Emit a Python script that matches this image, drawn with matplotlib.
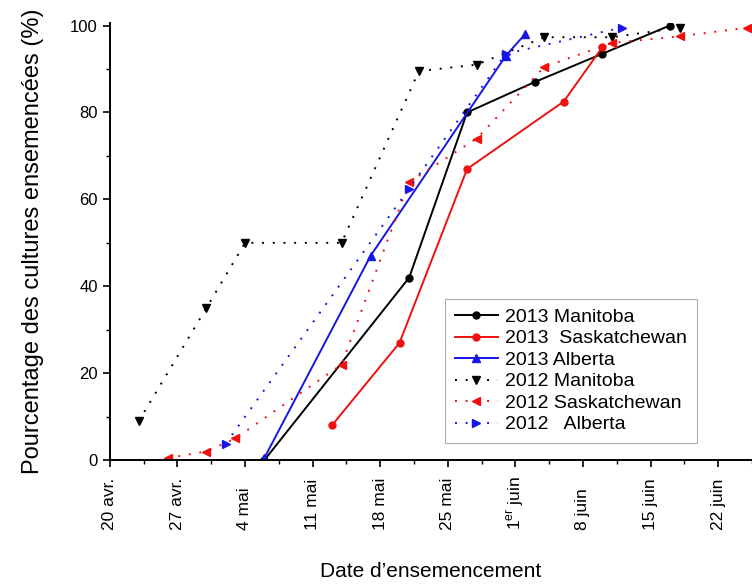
import numpy as np
import pandas as pd
import matplotlib
matplotlib.use("Agg")
import matplotlib.pyplot as plt
import matplotlib.transforms as mtransforms
from matplotlib.ticker import MultipleLocator

plt.rcParams.update({
    "font.family": ["Liberation Sans", "DejaVu Sans"],
    "mathtext.fontset": "custom",
    "mathtext.rm": "Liberation Sans",
    "font.size": 10,
})

# seeding dates (month-day) and % of crop seeded
man13_dates = ["05-06", "05-21", "05-27", "06-03", "06-10", "06-17"]
man13_vals = [0, 42, 80, 87, 93.5, 100]
sas13_dates = ["05-13", "05-20", "05-27", "06-06", "06-10"]
sas13_vals = [8, 27, 67, 82.5, 95]
alb13_dates = ["05-06", "05-17", "05-31", "06-02"]
alb13_vals = [0.5, 47, 93, 98]
man12_dates = ["04-23", "04-30", "05-04", "05-14", "05-22", "05-28", "06-04", "06-11", "06-18"]
man12_vals = [9, 35, 50, 50, 89.5, 91, 97.3, 97.3, 99.5]
sas12_dates = ["04-26", "04-30", "05-03", "05-14", "05-21", "05-28", "06-04", "06-11", "06-18", "06-25"]
sas12_vals = [0.5, 2, 5, 22, 64, 74, 90.5, 96, 97.5, 99.5]
alb12_dates = ["05-02", "05-21", "05-31", "06-12"]
alb12_vals = [3.8, 62.5, 93.5, 99.5]

tick_dates = ["04-20", "04-27", "05-04", "05-11", "05-18", "05-25",
              "06-01", "06-08", "06-15", "06-22"]
tick_labels = ["20 avr.", "27 avr.", "4 mai", "11 mai", "18 mai", "25 mai",
               "1$^{\\rm er}$ juin", "8 juin", "15 juin", "22 juin"]


def to_dt(md):
    # put both seasons on one calendar axis
    return pd.to_datetime(["2013-" + d for d in md])


series = [
    (man13_dates, man13_vals, "2013 Manitoba", "black", "-", "o", 5),
    (sas13_dates, sas13_vals, "2013  Saskatchewan", "#f01010", "-", "o", 5),
    (alb13_dates, alb13_vals, "2013 Alberta", "#1515e6", "-", "^", 5.5),
    (man12_dates, man12_vals, "2012 Manitoba", "black", (0, (1, 4.5)), "v", 6),
    (sas12_dates, sas12_vals, "2012 Saskatchewan", "#f01010", (0, (1, 4.5)), "<", 6),
    (alb12_dates, alb12_vals, "2012   Alberta", "#1515e6", (0, (1, 4.5)), ">", 6),
]

fig = plt.figure(figsize=(7.52, 5.87), dpi=100)
ax = fig.add_axes([0.146, 0.216, 0.854, 0.745])

for d, v, lab, c, ls, mk, ms in series:
    ax.plot(to_dt(d), v, linestyle=ls, color=c, lw=1.4, marker=mk, ms=ms,
            label=lab)

ax.set_xlim(pd.Timestamp("2013-04-20"), pd.Timestamp("2013-06-25 12:00"))
ax.set_ylim(0, 100.6)
ticks = to_dt(tick_dates)
ax.set_xticks(ticks)
ax.set_xticklabels([])
ax.set_xticks(ticks + pd.Timedelta(hours=84), minor=True)
ax.yaxis.set_major_locator(MultipleLocator(20))
ax.yaxis.set_minor_locator(MultipleLocator(10))
ax.tick_params(axis="y", labelsize=12)
ax.tick_params(which="major", direction="out", length=5, width=1.2)
ax.tick_params(which="minor", direction="out", length=3, width=1.0)

# rotated date labels, start of each string aligned at the same height
off = mtransforms.ScaledTranslation(0, -0.70, fig.dpi_scale_trans)
trans = ax.get_xaxis_transform() + off
for t, lab in zip(ticks, tick_labels):
    ax.text(t, 0, lab, rotation=90, ha="center", va="bottom",
            fontsize=12.5, transform=trans)

for s in ("top", "right"):
    ax.spines[s].set_visible(False)
for s in ("left", "bottom"):
    ax.spines[s].set_linewidth(1.4)

fig.text(0.573, 0.026, "Date d\u2019ensemencement", fontsize=15,
         ha="center", va="center")
ax.set_ylabel("Pourcentage des cultures ensemencées (%)", fontsize=17, labelpad=19)

leg = ax.legend(loc="lower left", bbox_to_anchor=(0.522, 0.039), fontsize=14,
                handlelength=2.2, handletextpad=0.4, labelspacing=0.2,
                fancybox=False, borderpad=0.5, borderaxespad=0)
leg.get_frame().set_edgecolor("#999999")
leg.get_frame().set_linewidth(0.8)

fig.savefig("out.png", dpi=100)
